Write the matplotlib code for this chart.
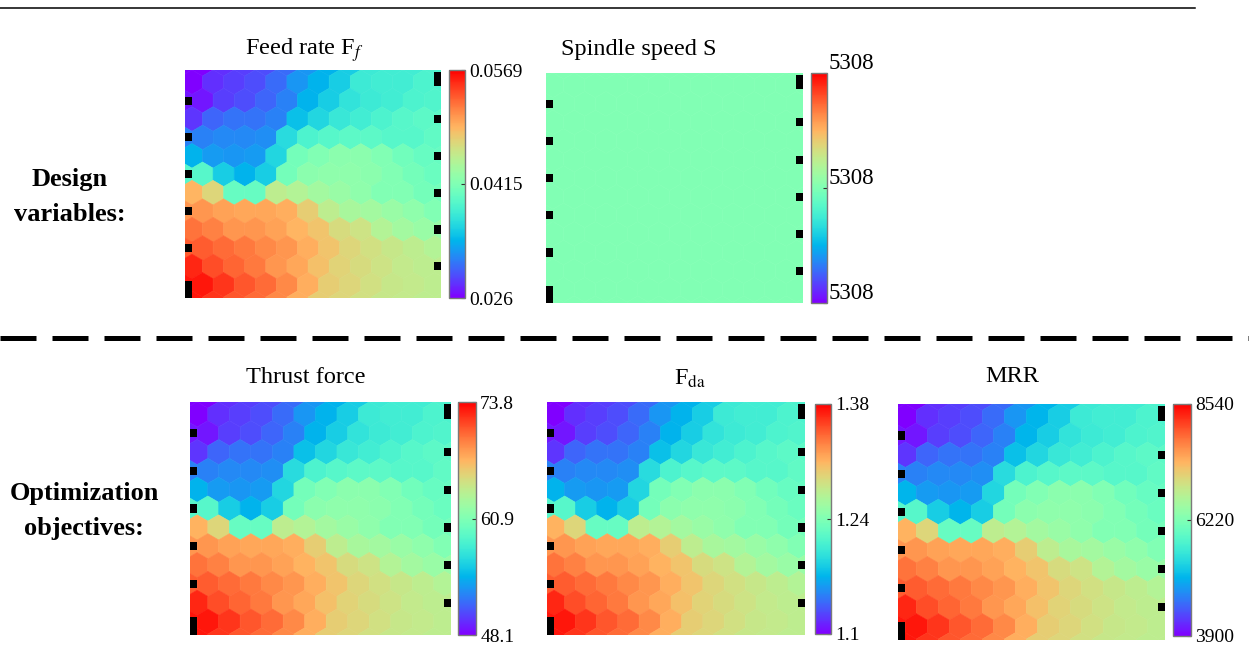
import numpy as np
import matplotlib as mpl
import matplotlib.pyplot as plt
from matplotlib.collections import PolyCollection
from matplotlib.patches import Rectangle
from matplotlib.lines import Line2D
from matplotlib.colors import Normalize
from matplotlib.transforms import ScaledTranslation

mpl.rcParams['font.family'] = ['Liberation Serif', 'DejaVu Serif']
mpl.rcParams['mathtext.fontset'] = 'stix'

W, H = 1249, 653

# SOM weight plane, read off the maps as position on the colour bar (0 = bottom, 1 = top)
# feed rate, thrust force, F_da and MRR planes show the same pattern
plane_level = np.array([
    [0.00, 0.06, 0.08, 0.10, 0.14, 0.20, 0.25, 0.30, 0.37, 0.38, 0.38, 0.40],
    [0.03, 0.08, 0.10, 0.13, 0.17, 0.25, 0.30, 0.35, 0.37, 0.38, 0.40, 0.41],
    [0.07, 0.13, 0.15, 0.15, 0.17, 0.27, 0.32, 0.36, 0.38, 0.40, 0.42, 0.43],
    [0.17, 0.18, 0.18, 0.19, 0.33, 0.40, 0.42, 0.43, 0.43, 0.42, 0.42, 0.44],
    [0.25, 0.21, 0.20, 0.21, 0.32, 0.48, 0.50, 0.52, 0.52, 0.50, 0.47, 0.45],
    [0.42, 0.30, 0.25, 0.30, 0.48, 0.52, 0.53, 0.53, 0.52, 0.50, 0.48, 0.46],
    [0.75, 0.68, 0.45, 0.45, 0.62, 0.60, 0.57, 0.55, 0.53, 0.50, 0.50, 0.48],
    [0.80, 0.78, 0.77, 0.77, 0.76, 0.70, 0.62, 0.58, 0.57, 0.55, 0.53, 0.50],
    [0.85, 0.83, 0.80, 0.80, 0.78, 0.75, 0.72, 0.67, 0.65, 0.60, 0.57, 0.55],
    [0.88, 0.86, 0.84, 0.82, 0.80, 0.76, 0.72, 0.68, 0.66, 0.64, 0.62, 0.60],
    [0.95, 0.90, 0.87, 0.84, 0.80, 0.77, 0.73, 0.69, 0.67, 0.65, 0.63, 0.62],
    [0.97, 0.93, 0.89, 0.86, 0.82, 0.76, 0.70, 0.68, 0.66, 0.64, 0.63, 0.62],
])
spindle_speed = np.full(plane_level.shape, 5308.0)  # constant over the whole map

titles = ['Feed rate F$_f$', 'Spindle speed S', 'Thrust force', r'F$_{\mathrm{da}}$', 'MRR']
lows = [0.026, 5308, 48.1, 1.1, 3900]
mids = [0.0415, 5308, 60.9, 1.24, 6220]
highs = [0.0569, 5308, 73.8, 1.38, 8540]
tick_text = [['0.026', '0.0415', '0.0569'], ['5308', '5308', '5308'],
             ['48.1', '60.9', '73.8'], ['1.1', '1.24', '1.38'], ['3900', '6220', '8540']]

# pixel boxes: map, colour bar, title (x, baseline y)
map_box = [(185, 70, 441, 298), (546, 73, 803, 303), (190, 402, 451, 635),
           (547, 402, 805, 635), (898, 404, 1165, 640)]
cb_box = [(449, 70, 465, 298), (811, 73, 827, 303), (458, 402, 476, 635),
          (815, 404, 831, 634), (1173, 404, 1191, 636)]
title_pos = [(304, 55), (639, 55), (306, 383), (690, 385), (1012, 382)]


def frac(b):
    x0, y0, x1, y1 = b
    return [x0 / W, 1 - y1 / H, (x1 - x0) / W, (y1 - y0) / H]


dy = np.sqrt(3) / 2
R = 1 / np.sqrt(3)
ang = np.deg2rad(np.arange(6) * 60 + 30)
XMIN, XMAX = -0.33, 11.8
YTOP, YBOT = 0.57, -11 * dy - 0.62


def hex_plane(ax, vals, norm):
    padded = np.pad(vals, 1, mode='edge')   # fill the clipped borders
    polys, cols = [], []
    for i in range(padded.shape[0]):
        r = i - 1
        for j in range(padded.shape[1]):
            x = (j - 1) + 0.5 * (r % 2)
            y = -r * dy
            polys.append(np.column_stack([x + R * np.cos(ang), y + R * np.sin(ang)]))
            cols.append(padded[i, j])
    pc = PolyCollection(polys, array=np.array(cols), cmap='rainbow', norm=norm,
                        edgecolors='face', linewidths=0.4)
    ax.add_collection(pc)
    ax.set_xlim(XMIN, XMAX)
    ax.set_ylim(YBOT, YTOP)
    ax.set_axis_off()
    # dark gaps where the shifted rows stop short of the frame
    mw, mh = 0.33, 0.38
    nrow = vals.shape[0]
    for r in range(1, nrow, 2):
        y0 = -r * dy - mh / 2
        top = y0 + mh
        if r == nrow - 1:
            y0 = YBOT
        ax.add_patch(Rectangle((XMIN, y0), mw, top - y0, color='black', lw=0, zorder=3))
    for r in range(0, nrow, 2):
        y0 = -r * dy - mh / 2
        top = y0 + mh
        if r == 0:
            top = YTOP - 0.1
        ax.add_patch(Rectangle((XMAX - mw, y0), mw, top - y0, color='black', lw=0, zorder=3))
    return pc


fig = plt.figure(figsize=(W / 100, H / 100), dpi=100)

for k in range(5):
    ax = fig.add_axes(frac(map_box[k]))
    if k == 1:
        vals = spindle_speed
        norm = Normalize(5308 - 0.5, 5308 + 0.5)
        ticks = [5308 - 0.5, 5308, 5308 + 0.5]
    else:
        vals = lows[k] + plane_level * (highs[k] - lows[k])
        norm = Normalize(lows[k], highs[k])
        ticks = [lows[k], mids[k], highs[k]]
    pc = hex_plane(ax, vals, norm)

    cax = fig.add_axes(frac(cb_box[k]))
    cb = fig.colorbar(pc, cax=cax)
    cb.set_ticks(ticks)
    cb.set_ticklabels(tick_text[k])
    cb.outline.set_edgecolor('#7a7a7a')
    cb.outline.set_linewidth(1.0)
    cax.tick_params(length=3, width=0.8, direction='in', labelsize=14, pad=3, color='#333333')
    if k == 1:
        # labels of this bar are larger and sit a little higher than its ticks
        cax.tick_params(labelsize=16.5, pad=1)
        for lbl in cax.get_yticklabels():
            lbl.set_transform(lbl.get_transform() + ScaledTranslation(0, 0.12, fig.dpi_scale_trans))

    tx, ty = title_pos[k]
    fig.text(tx / W, 1 - ty / H, titles[k], ha='center', va='baseline', fontsize=17.5)

# row labels
fig.text(70 / W, 1 - 197 / H, 'Design\nvariables:', ha='center', va='center',
         fontsize=19, fontweight='bold', linespacing=1.7)
fig.text(84 / W, 1 - 511 / H, 'Optimization\nobjectives:', ha='center', va='center',
         fontsize=19, fontweight='bold', linespacing=1.7)

# separator lines
fig.add_artist(Line2D([0, 1195 / W], [1 - 8 / H, 1 - 8 / H], color='black', lw=1.1))
fig.add_artist(Line2D([0, 1], [1 - 338 / H, 1 - 338 / H], color='black', lw=3.6,
                      linestyle=(0, (7.2, 3.2))))

fig.savefig('out.png', dpi=100)
